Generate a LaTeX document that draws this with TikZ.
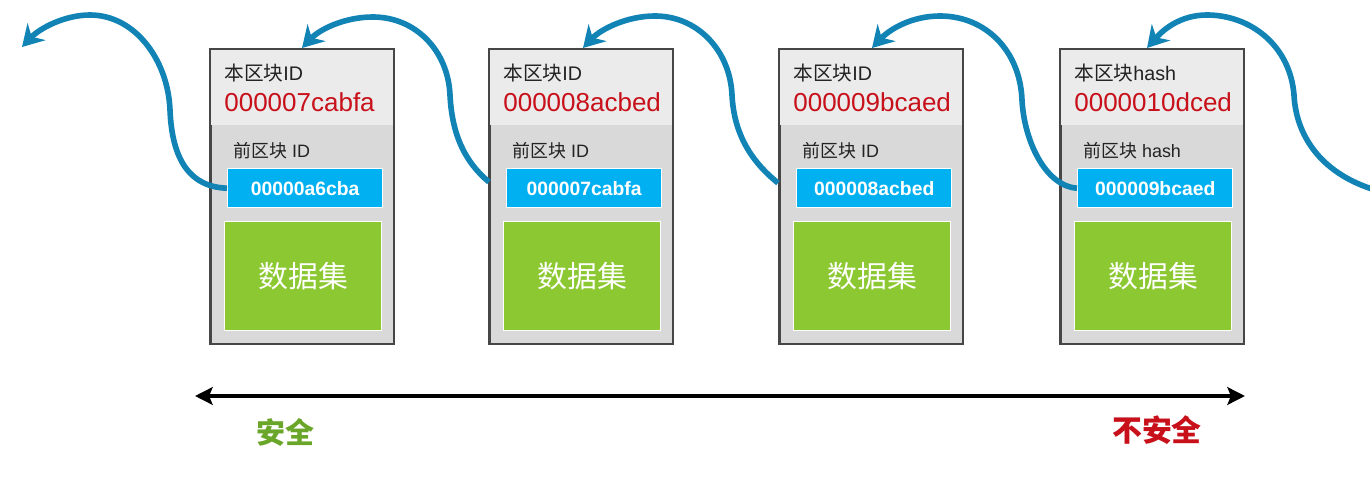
\documentclass[tikz,border=0pt]{standalone}
\usepackage{fontspec}
\setmainfont{Liberation Sans}
\newfontfamily\cjk{Noto Sans CJK SC}
\usetikzlibrary{arrows.meta}
\definecolor{curveblue}{RGB}{17,132,181}
\definecolor{topgray}{RGB}{235,235,235}
\definecolor{lowgray}{RGB}{217,217,217}
\definecolor{bordergray}{RGB}{70,70,70}
\definecolor{cyanbox}{RGB}{0,176,240}
\definecolor{greenbox}{RGB}{140,200,50}
\definecolor{idred}{RGB}{200,16,26}
\definecolor{labeldark}{RGB}{34,34,34}
\definecolor{safegreen}{RGB}{106,166,41}
\tikzset{
  blockbox/.style={draw=bordergray, line width=0.9pt, fill=lowgray, minimum width=3.66cm, minimum height=5.88cm, inner sep=0pt, anchor=north west},
  prevbox/.style={draw=white, line width=0.8pt, fill=cyanbox, minimum width=3.1cm, minimum height=0.78cm, inner sep=0pt, anchor=north west, text=white, font=\fontsize{11}{13}\selectfont\bfseries},
  databox/.style={draw=white, line width=0.8pt, fill=greenbox, minimum width=3.14cm, minimum height=2.18cm, inner sep=0pt, anchor=north west, text=white, font=\cjk\fontsize{17}{20}\selectfont},
  curlabel/.style={anchor=base west, inner sep=0pt, text=labeldark, font=\fontsize{11.2}{13}\selectfont},
  idlabel/.style={anchor=base west, inner sep=0pt, text=idred, font=\fontsize{14.8}{17}\selectfont},
  prevlabel/.style={anchor=base west, inner sep=0pt, text=labeldark, font=\fontsize{10.2}{12}\selectfont},
  chain/.style={draw=curveblue, line width=3.2pt, -{Stealth[length=12pt, width=14pt, inset=4pt]}},
  scale arrow/.style={draw=black, line width=2.2pt, {Stealth[length=10pt, width=10pt, inset=2pt]}-{Stealth[length=10pt, width=10pt, inset=2pt]}}
}
\begin{document}
\begin{tikzpicture}[x=0.02cm, y=-0.02cm]
\useasboundingbox (0,0) rectangle (1370,486);
\clip (0,0) rectangle (1370,486);

\foreach \i/\x/\cur/\id/\prev/\pid in {
  1/210/ID/000007cabfa/\ ID/00000a6cba,
  2/489/ID/000008acbed/\ ID/000007cabfa,
  3/779/ID/000009bcaed/\ ID/000008acbed,
  4/1060/hash/0000010dced/\ hash/000009bcaed} {
  \fill[black!15] (\x+1.5,50.5) rectangle (\x+184.5,344.5);
  \node[blockbox] (b\i) at (\x,49) {};
  \fill[topgray] (\x+0.5,49.5) rectangle (\x+182.5,125);
  \draw[bordergray, line width=0.9pt] (b\i.north west) rectangle (b\i.south east);
  \node[curlabel] (c\i) at (\x+14,81) {{\cjk 本区块}\cur};
  \node[idlabel] (h\i) at (\x+14,112) {\id};
  \node[prevlabel] (l\i) at (\x+23,158) {{\cjk 前区块}\prev};
  \node[prevbox] (p\i) at (\x+17,168) {\pid};
  \node[databox] (d\i) at (\x+14,221) {数据集};
}

% chain arrows
\coordinate (t0) at (22,47);
\coordinate (t1) at (302,48);
\coordinate (t2) at (583,48);
\coordinate (t3) at (872,48);
\coordinate (t4) at (1147,48);
\coordinate (s2) at (489,182);
\coordinate (s3) at (778,183);
\coordinate (s5) at (1372,189);

\path[chain] (p1.west) .. controls (190,187) and (172,160) .. (170,110)
  .. controls (168,60) and (135,15) .. (90,15)
  .. controls (65,15) and (40,28) .. (t0);
\path[chain] (s2) .. controls (465,162) and (452,135) .. (450,95)
  .. controls (448,50) and (415,17) .. (373,17)
  .. controls (345,17) and (320,29) .. (t1);
\path[chain] (s3) .. controls (752,162) and (734,135) .. (732,95)
  .. controls (730,50) and (697,16) .. (655,16)
  .. controls (627,16) and (601,29) .. (t2);
\path[chain] (p4.west) .. controls (1045,186) and (1024,140) .. (1022,100)
  .. controls (1020,50) and (985,16) .. (940,16)
  .. controls (912,16) and (890,29) .. (t3);
\path[chain] (s5) .. controls (1320,172) and (1296,135) .. (1294,95)
  .. controls (1290,45) and (1250,15) .. (1207,15)
  .. controls (1180,15) and (1163,30) .. (t4);

% safety scale
\coordinate (L) at (195,396);
\coordinate (R) at (1245,396);
\path[scale arrow] (L) -- (R);
\node[text=safegreen, font=\cjk\bfseries\fontsize{16.5}{19}\selectfont] (safe) at (285,432) {安全};
\node[text=idred, font=\cjk\bfseries\fontsize{17}{20}\selectfont] (unsafe) at (1157,430) {不安全};
\end{tikzpicture}
\end{document}
